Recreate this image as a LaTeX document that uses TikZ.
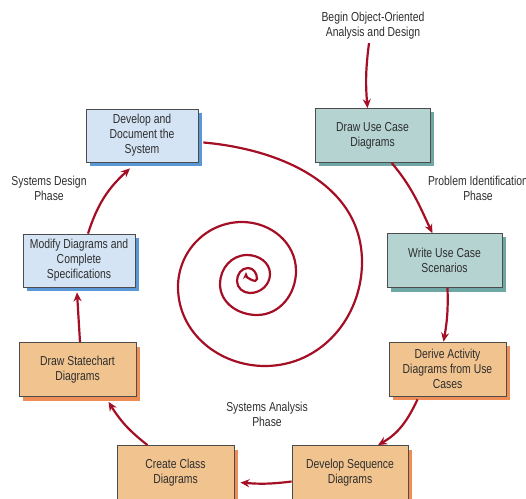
\documentclass[tikz,border=0pt]{standalone}
\usepackage{fontspec}
\setmainfont{Liberation Sans}[FakeStretch=0.8]
\usetikzlibrary{arrows.meta,shadows}

\definecolor{arrowred}{HTML}{A50F26}
\definecolor{textgray}{HTML}{2E2E2E}
\definecolor{bluefill}{HTML}{D4E4F5}
\definecolor{blueshadow}{HTML}{5A97D6}
\definecolor{tealfill}{HTML}{B5D3D1}
\definecolor{tealshadow}{HTML}{6FA7A4}
\definecolor{orangefill}{HTML}{F1C38E}
\definecolor{orangeshadow}{HTML}{EE8D55}

\tikzset{
    stepbox/.style={draw=black!70, line width=0.8pt, text=textgray, align=center,
        minimum width=115pt, minimum height=54pt, inner sep=2pt,
        font=\fontsize{13}{15}\selectfont},
    bluebox/.style={stepbox, fill=bluefill,
        drop shadow={shadow xshift=4pt, shadow yshift=-4pt, fill=blueshadow, opacity=1}},
    tealbox/.style={stepbox, fill=tealfill,
        drop shadow={shadow xshift=4pt, shadow yshift=-4pt, fill=tealshadow, opacity=1}},
    orangebox/.style={stepbox, fill=orangefill,
        drop shadow={shadow xshift=4pt, shadow yshift=-4pt, fill=orangeshadow, opacity=1}},
    phase/.style={text=textgray, align=center, font=\fontsize{13}{15}\selectfont},
    flow/.style={draw=arrowred, line width=2.2pt, -{Stealth[length=9pt,width=8pt]}}
}

\begin{document}
\begin{tikzpicture}[x=1pt, y=1pt]
    \useasboundingbox (0,0) rectangle (526,498);

    % labels
    \node[phase] (begin) at (373,472) {Begin Object-Oriented\\Analysis and Design};
    \node[phase] (probid) at (478,309.5) {Problem Identification\\Phase};
    \node[phase] (sysdesign) at (49,309.5) {Systems Design\\Phase};
    \node[phase] (sysanalysis) at (267,83.5) {Systems Analysis\\Phase};

    % boxes
    \node[bluebox, minimum width=112pt, minimum height=53pt] (dev) at (142,362.5)
        {Develop and\\Document the\\System};
    \node[tealbox] (drawuc) at (372.5,362.5) {Draw Use Case\\Diagrams};
    \node[tealbox] (writeuc) at (444.5,237.5) {Write Use Case\\Scenarios};
    \node[orangebox, minimum width=117pt] (activity) at (447.5,129)
        {Derive Activity\\Diagrams from Use\\Cases};
    \node[orangebox, minimum width=116pt] (sequence) at (350,25.5)
        {Develop Sequence\\Diagrams};
    \node[orangebox, minimum width=117pt] (classd) at (175.5,25.5)
        {Create Class\\Diagrams};
    \node[orangebox, minimum width=117pt] (statechart) at (77.5,128.5)
        {Draw Statechart\\Diagrams};
    \node[bluebox, minimum width=112pt, minimum height=53pt] (modify) at (79,237.5)
        {Modify Diagrams and\\Complete\\Specifications};

    % cycle
    \draw[flow] ([xshift=-4pt]begin.south) to[bend right=6] ([xshift=-5pt]drawuc.north);
    \draw[flow] (drawuc.-55) to[out=-50,in=115] (writeuc.114);
    \draw[flow] ([xshift=3pt]writeuc.south) to[bend left=6] ([xshift=-4pt]activity.north);
    \draw[flow] ([xshift=-30pt,yshift=-3pt]activity.south) to[out=-115,in=30] ([xshift=28pt]sequence.north);
    \draw[flow] ([yshift=-9pt]sequence.west) to[bend left=6] ([xshift=6pt,yshift=-10pt]classd.east);
    \draw[flow] ([xshift=-28pt]classd.north) to[bend left=10] ([xshift=31pt,yshift=-5pt]statechart.south);
    \draw[flow] ([xshift=2.5pt]statechart.north) -- ([xshift=-2pt,yshift=-5pt]modify.south);
    \draw[flow] ([xshift=9pt]modify.north) to[bend left=15] ([xshift=-12pt,yshift=-6pt]dev.south);

    % spiral
    \draw[flow, -{Stealth[length=7pt,width=6pt]}] ([xshift=5pt,yshift=-7pt]dev.east)
        to[out=-5,in=90] (362,236) to[out=-90,in=0] (265,132)
        to[out=180,in=-90] (178,211) to[out=90,in=180] (242,276)
        to[out=0,in=90] (296,227) to[out=-90,in=0] (257,183)
        to[out=180,in=-90] (220,214) to[out=90,in=180] (247,243)
        to[out=0,in=90] (270,224) to[out=-90,in=0] (250,205)
        to[out=180,in=-90] (237,217) to[out=90,in=180] (248,230)
        to[out=0,in=90] (257,219) to[out=-90,in=-90] (246,226);
\end{tikzpicture}
\end{document}
